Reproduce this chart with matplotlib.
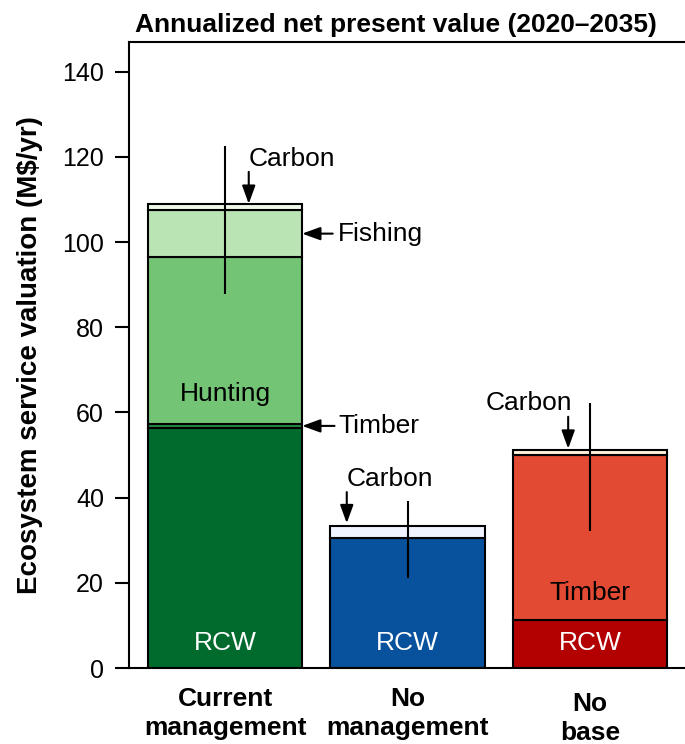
import numpy as np
import matplotlib
matplotlib.use('Agg')
import matplotlib.pyplot as plt
import matplotlib.transforms as mtransforms

plt.rcParams['font.family'] = ['Liberation Sans', 'DejaVu Sans']

categories = ['Current\nmanagement', 'No\nmanagement', 'No\nbase']
rcw = [56.3, 30.5, 11.3]
timber = [1.1, 0.0, 38.7]
hunting = [39.1, 0.0, 0.0]
fishing = [11.0, 0.0, 0.0]
carbon = [1.5, 2.9, 1.2]
err_low = [87.9, 21.2, 32.2]
err_high = [122.6, 39.1, 62.3]

# colours per scenario, per component
colors = {
    'rcw':     ['#006b2d', '#08519c', '#b30000'],
    'timber':  ['#238b45', '#6baed6', '#e34a33'],
    'hunting': ['#74c476', '#74c476', '#74c476'],
    'fishing': ['#bae4b3', '#bae4b3', '#bae4b3'],
    'carbon':  ['#edf8e9', '#eff3ff', '#fef0d9'],
}

fig = plt.figure(figsize=(6.85, 7.44), dpi=100)
ax = fig.add_axes([129/685, 76/744, 1 - 129/685, (668-42)/744])

x = np.arange(len(categories))
w = 0.845
bottom = np.zeros(3)
for name, vals in [('rcw', rcw), ('timber', timber), ('hunting', hunting),
                   ('fishing', fishing), ('carbon', carbon)]:
    vals = np.array(vals)
    keep = vals > 0
    ax.bar(x[keep], vals[keep], w, bottom=bottom[keep],
           color=np.array(colors[name])[keep], edgecolor='black', linewidth=1.5, zorder=2)
    bottom += vals
totals = bottom

ax.vlines(x, err_low, err_high, color='black', linewidth=1.5, zorder=3)

ax.set_xlim(-0.526, 2.52)
ax.set_ylim(0, 147)
ax.set_yticks(np.arange(0, 141, 20))
ax.tick_params(axis='y', labelsize=18, length=10, width=1.5, direction='out', pad=8)
ax.set_xticks(x)
ax.set_xticklabels(categories, fontsize=19, fontweight='bold', linespacing=1.27)
ax.tick_params(axis='x', length=0, pad=13.5)
# the last label sits a little lower in the original
lab = ax.get_xticklabels()[2]
lab.set_transform(lab.get_transform() + mtransforms.ScaledTranslation(0, -5/100, fig.dpi_scale_trans))
ax.spines['right'].set_visible(False)
for s in ['left', 'top', 'bottom']:
    ax.spines[s].set_linewidth(1.5)
ax.set_ylabel('Ecosystem service valuation (M$/yr)', fontsize=20, fontweight='bold', labelpad=14)

fig.text(396/685, 1 - 25/744, 'Annualized net present value (2020\u20132035)',
         ha='center', va='center', fontsize=19, fontweight='bold')

fs = 19
ap = dict(arrowstyle='-|>,head_length=1.1,head_width=0.4', color='black', lw=1.5,
          shrinkA=0, shrinkB=0)

# segment labels
ax.text(x[0], 64.4, 'Hunting', ha='center', va='center', fontsize=fs)
ax.text(x[2], 17.6, 'Timber', ha='center', va='center', fontsize=fs)
for i in range(3):
    ax.text(x[i], 5.9, 'RCW', ha='center', va='center', fontsize=fs, color='white')

# arrows
ax.annotate('', xy=(0.13, totals[0]), xytext=(0.13, 116.5), arrowprops=ap)
ax.text(0.13, 119.6, 'Carbon', ha='left', va='center', fontsize=fs)
y_fish = rcw[0] + timber[0] + hunting[0] + fishing[0] / 2
ax.annotate('', xy=(w/2, y_fish), xytext=(0.59, y_fish), arrowprops=ap)
ax.text(0.62, y_fish, 'Fishing', ha='left', va='center', fontsize=fs)
y_timb = rcw[0] + timber[0] / 2
ax.annotate('', xy=(w/2, y_timb), xytext=(0.6, y_timb), arrowprops=ap)
ax.text(0.62, y_timb, 'Timber', ha='left', va='center', fontsize=fs)

ax.annotate('', xy=(0.667, totals[1] + 0.6), xytext=(0.667, 41.3), arrowprops=ap)
ax.text(0.668, 44.4, 'Carbon', ha='left', va='center', fontsize=fs)

ax.annotate('', xy=(1.88, totals[2] + 0.3), xytext=(1.88, 59.0), arrowprops=ap)
ax.text(1.666, 62.2, 'Carbon', ha='center', va='center', fontsize=fs)

fig.savefig('out.png', dpi=100)
